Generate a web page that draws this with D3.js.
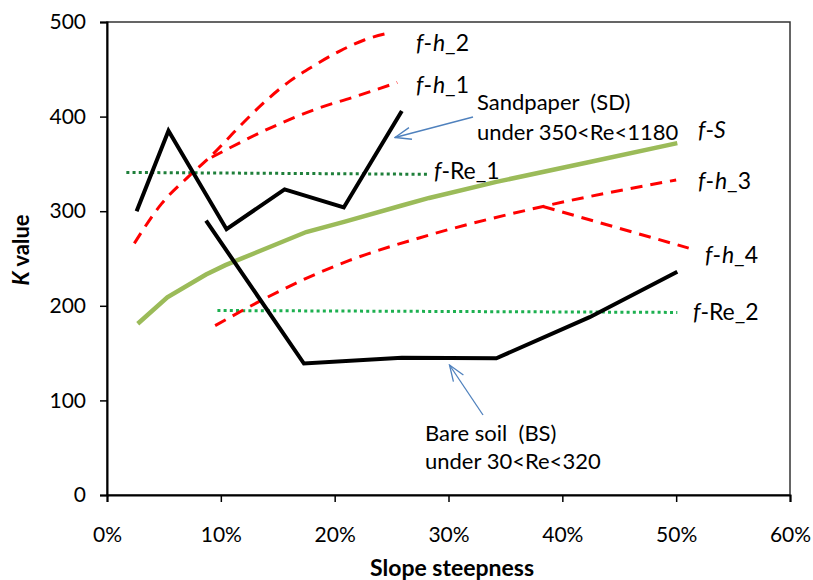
<!DOCTYPE html>
<html>
<head>
<meta charset="utf-8">
<script src="https://cdn.jsdelivr.net/npm/d3@7"></script>
<style>
  body { margin: 0; background: #fff; }
  text { font-family: Lato, "Open Sans", sans-serif; fill: #000; }
</style>
</head>
<body>
<div class="chart_area"></div>
<script>
// slope steepness (%) and K values
var sdSlope = [2.6, 5.4, 10.5, 15.6, 20.8, 25.9];
var sdK = [300, 385, 281, 323, 304, 406];
var bsSlope = [8.7, 17.3, 25.9, 34.2, 42.4, 50.1];
var bsK = [290, 139, 145, 144.5, 188, 236];
var fsSlope = [2.7, 5.3, 8.7, 10.4, 17.5, 20.9, 25.9, 28.3, 34.2, 42.4, 50.1];
var fsK = [181, 209, 233, 243, 278, 289, 306, 314, 331, 352, 372];
var fh1Slope = [9.2, 14.9, 18.6, 21.5, 25.5];
var fh1K = [357, 391, 409, 420, 436];
var fh2Slope = [2.4, 4.8, 7.2, 9.2, 11.6, 13.8, 16.0, 18.2, 20.4, 22.6, 25.0];
var fh2K = [266, 308, 337, 359, 389, 415, 437, 454, 469, 481, 489];
var fh3Slope = [9.5, 13.6, 17.5, 21.3, 27.5, 38.3, 50.0];
var fh3K = [179, 206, 229, 248, 272, 305, 333];
var fh4Slope = [38.3, 51.1];
var fh4K = [305, 261];
var re1Slope = [1.7, 28.3];
var re1K = [341, 339];
var re2Slope = [9.7, 50.1];
var re2K = [195, 193];
var xTicks = [0, 10, 20, 30, 40, 50, 60];
var yTicks = [0, 100, 200, 300, 400, 500];

var width = 813, height = 580;
var margin = {left: 107, right: 23, top: 22, bottom: 85};

var svg = d3.select(".chart_area").append("svg")
  .attr("width", width)
  .attr("height", height);

var x = d3.scaleLinear().domain([0, 60]).range([margin.left, width - margin.right]);
var y = d3.scaleLinear().domain([0, 500]).range([height - margin.bottom, margin.top]);

function zip(xs, ys) {
  return xs.map(function (v, i) { return [v, ys[i]]; });
}

var line = d3.line()
  .x(function (d) { return x(d[0]); })
  .y(function (d) { return y(d[1]); });
var smooth = d3.line()
  .curve(d3.curveMonotoneX)
  .x(function (d) { return x(d[0]); })
  .y(function (d) { return y(d[1]); });

// plot frame
svg.append("rect")
  .attr("x", x(0)).attr("y", y(500))
  .attr("width", x(60) - x(0)).attr("height", y(0) - y(500))
  .attr("fill", "none").attr("stroke", "#333").attr("stroke-width", 1.5);

var series = [
  {pts: zip(re1Slope, re1K), gen: line, color: "#1E7F3A", w: 3, dash: "3,3.2"},
  {pts: zip(re2Slope, re2K), gen: line, color: "#1DB050", w: 3, dash: "3,3.2"},
  {pts: zip(fh2Slope, fh2K), gen: smooth, color: "#FF0000", w: 3, dash: "12,8"},
  {pts: zip(fh1Slope, fh1K), gen: smooth, color: "#FF0000", w: 3, dash: "12,8"},
  {pts: zip(fh3Slope, fh3K), gen: smooth, color: "#FF0000", w: 3, dash: "12,8"},
  {pts: zip(fh4Slope, fh4K), gen: line, color: "#FF0000", w: 3, dash: "12,8"},
  {pts: zip(fsSlope, fsK), gen: line, color: "#9BBB59", w: 4.5, dash: null},
  {pts: zip(sdSlope, sdK), gen: line, color: "#000", w: 4, dash: null},
  {pts: zip(bsSlope, bsK), gen: line, color: "#000", w: 4, dash: null}
];

svg.append("g").selectAll("path")
  .data(series)
  .enter().append("path")
  .attr("d", function (d) { return d.gen(d.pts); })
  .attr("fill", "none")
  .attr("stroke", function (d) { return d.color; })
  .attr("stroke-width", function (d) { return d.w; })
  .attr("stroke-dasharray", function (d) { return d.dash; })
  .attr("stroke-linejoin", "miter");

// axes
var gx = svg.append("g")
  .attr("transform", "translate(0," + y(0) + ")")
  .call(d3.axisBottom(x).tickValues(xTicks).tickSize(7).tickPadding(25)
    .tickFormat(function (d) { return d + "%"; }));
var gy = svg.append("g")
  .attr("transform", "translate(" + x(0) + ",0)")
  .call(d3.axisLeft(y).tickValues(yTicks).tickSize(7).tickPadding(14));
[gx, gy].forEach(function (g) {
  g.select(".domain").attr("stroke", "#000").attr("stroke-width", 2);
  g.selectAll(".tick line").attr("stroke", "#000").attr("stroke-width", 1.5);
  g.selectAll(".tick text").style("font-family", "Lato, sans-serif").style("font-size", "21px").attr("fill", "#000");
});

svg.append("text")
  .attr("x", 452).attr("y", 576)
  .attr("text-anchor", "middle")
  .style("font-size", "23px").style("font-weight", "bold")
  .text("Slope steepness");

var yt = svg.append("text")
  .attr("transform", "translate(29,250) rotate(-90)")
  .attr("text-anchor", "middle")
  .style("font-size", "22px").style("font-weight", "bold");
yt.append("tspan").style("font-style", "italic").text("K");
yt.append("tspan").text(" value");

// curve labels: parts with italic flags
var labels = [
  {x: 416, y: 51, size: 23, parts: [["f", 1], ["-", 0], ["h", 1], ["_2", 0]]},
  {x: 416, y: 93, size: 23, parts: [["f", 1], ["-", 0], ["h", 1], ["_1", 0]]},
  {x: 698, y: 138, size: 23, parts: [["f", 1], ["-", 0], ["S", 1]]},
  {x: 434, y: 179, size: 23, parts: [["f", 1], ["-Re_1", 0]]},
  {x: 698, y: 189, size: 23, parts: [["f", 1], ["-", 0], ["h", 1], ["_3", 0]]},
  {x: 705, y: 263, size: 23, parts: [["f", 1], ["-", 0], ["h", 1], ["_4", 0]]},
  {x: 693, y: 320, size: 23, parts: [["f", 1], ["-Re_2", 0]]},
  {x: 477, y: 110, size: 22, parts: [["Sandpaper\u00a0\u00a0(SD)", 0]]},
  {x: 477, y: 140, size: 22, parts: [["under 350<Re<1180", 0]]},
  {x: 425, y: 441, size: 22, parts: [["Bare soil\u00a0\u00a0(BS)", 0]]},
  {x: 425, y: 469, size: 22, parts: [["under 30<Re<320", 0]]}
];

var lt = svg.append("g").selectAll("text")
  .data(labels)
  .enter().append("text")
  .attr("x", function (d) { return d.x; })
  .attr("y", function (d) { return d.y; })
  .style("font-size", function (d) { return d.size + "px"; });
lt.each(function (d) {
  var t = d3.select(this);
  d.parts.forEach(function (p) {
    t.append("tspan")
      .style("font-style", p[1] ? "italic" : "normal")
      .attr("dx", p[1] && p[0] == "h" ? 1 : null)
      .text(p[0]);
  });
});

// callout arrows
svg.append("defs").append("marker")
  .attr("id", "openArrow")
  .attr("markerUnits", "userSpaceOnUse")
  .attr("viewBox", "0 0 18 14")
  .attr("markerWidth", 18).attr("markerHeight", 14)
  .attr("refX", 17).attr("refY", 7)
  .attr("orient", "auto")
  .append("path")
  .attr("d", "M1,1 L17,7 L1,13")
  .attr("fill", "none").attr("stroke", "#4F81BD").attr("stroke-width", 1.3);

var arrows = [[473, 117, 395, 137.5], [483, 415, 449.5, 365]];
svg.append("g").selectAll("line")
  .data(arrows)
  .enter().append("line")
  .attr("x1", function (d) { return d[0]; })
  .attr("y1", function (d) { return d[1]; })
  .attr("x2", function (d) { return d[2]; })
  .attr("y2", function (d) { return d[3]; })
  .attr("stroke", "#4F81BD").attr("stroke-width", 1.3)
  .attr("marker-end", "url(#openArrow)");
</script>
</body>
</html>
